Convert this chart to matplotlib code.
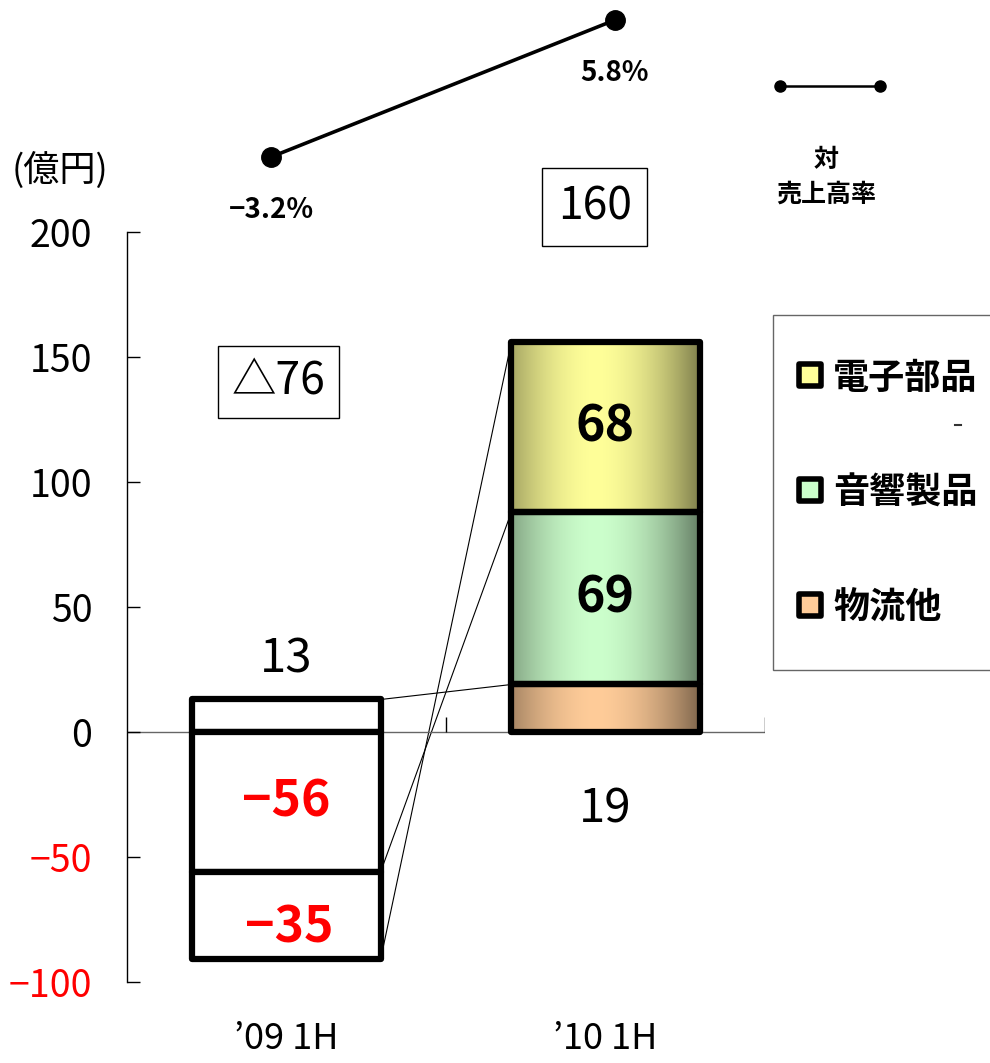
import numpy as np
import matplotlib
matplotlib.use("Agg")
import matplotlib.pyplot as plt
from matplotlib.patches import Rectangle
from matplotlib.lines import Line2D

# data
categories = ["’09 1H", "’10 1H"]
series_names = ["物流他", "音響製品", "電子部品"]
butsuryu = [13, 19]
onkyo = [-56, 69]
denshi = [-35, 68]
ratio = [-3.2, 5.8]
ratio_labels = ["−3.2%", "5.8%"]
total_labels = ["△76", "160"]
yticks = [-100, -50, 0, 50, 100, 150, 200]

light_colors = {"物流他": (1.0, 0.8, 0.6), "音響製品": (0.8, 1.0, 0.8), "電子部品": (1.0, 1.0, 0.6)}

FONT = ["Liberation Sans Narrow", "Noto Sans CJK JP", "DejaVu Sans"]
plt.rcParams["font.family"] = FONT

W, H = 990, 1063
fig = plt.figure(figsize=(W / 100, H / 100), dpi=100)


def px_axes(x0, y0, x1, y1):
    # pixel box (top-left origin) -> figure fraction
    return [x0 / W, 1 - y1 / H, (x1 - x0) / W, (y1 - y0) / H]


def fmt(v):
    return str(v).replace("-", "−")


ax = fig.add_axes(px_axes(127, 232, 765, 982))
bar_w = 0.59
ax.set_xlim(-0.5, 1.5)
ax.set_ylim(-100, 200)


def gradient(light, n=200):
    t = np.linspace(0, 1, n)
    w = 1 - np.clip(np.abs(t - 0.45) / 0.55, 0, 1) ** 1.8
    light = np.array(light)
    dark = light * 0.5
    row = dark[None, :] + (light - dark)[None, :] * w[:, None]
    return row[None, :, :]


series_vals = [butsuryu, onkyo, denshi]
ends = {}  # cumulative end of each segment, per bar
for i, cat in enumerate(categories):
    pos, neg = 0.0, 0.0
    x0 = i - bar_w / 2
    for name, vals in zip(series_names, series_vals):
        v = vals[i]
        if v >= 0:
            b, pos = pos, pos + v
            top = pos
        else:
            b, neg = neg, neg + v
            top = neg
        ends[(i, name)] = top
        y_lo, y_hi = min(b, top), max(b, top)
        if i == 1:
            ax.imshow(gradient(light_colors[name]), extent=[x0, x0 + bar_w, y_lo, y_hi],
                      aspect="auto", interpolation="bilinear", zorder=2)
            face = "none"
        else:
            face = "white"
        ax.add_patch(Rectangle((x0, y_lo), bar_w, y_hi - y_lo, facecolor=face,
                               edgecolor="black", linewidth=4.5, joinstyle="round", zorder=3))
        # value labels
        if name == "物流他":
            ly = top + 16 if i == 0 else -31
            ax.text(i, ly, fmt(v), ha="center", va="center", fontsize=34, color="black", zorder=5)
        else:
            col = "red" if v < 0 else "black"
            off = -5 if (name == "電子部品" and i == 0) else 0
            ax.text(i + (0.01 if off else 0), (b + top) / 2 + off, fmt(v), ha="center", va="center",
                    fontsize=36, fontweight="bold", color=col, zorder=5)

# series connection lines between bars
for name in series_names:
    ax.plot([bar_w / 2, 1 - bar_w / 2], [ends[(0, name)], ends[(1, name)]],
            color="black", lw=0.8, zorder=1)

ax.set_xlim(-0.5, 1.5)
ax.set_ylim(-100, 200)

# totals in boxes
ax.text(-0.025, 140, total_labels[0], ha="center", va="center", fontsize=32, zorder=5,
        bbox=dict(boxstyle="square,pad=0.3", facecolor="white", edgecolor="black", lw=1))
ax.text(0.966, 210, total_labels[1], ha="center", va="center", fontsize=32, zorder=5,
        clip_on=False,
        bbox=dict(boxstyle="square,pad=0.35", facecolor="white", edgecolor="black", lw=1))

# axes styling
for s in ["top", "right", "bottom"]:
    ax.spines[s].set_visible(False)
ax.spines["left"].set_linewidth(1)
ax.axhline(0, color="#666666", lw=1, zorder=1)
ax.vlines([0.5, 1.5], 0, 6, color="black", lw=1, zorder=1)
ax.set_yticks(yticks)
ax.set_yticklabels([fmt(t) for t in yticks])
for lab, t in zip(ax.get_yticklabels(), yticks):
    lab.set_color("red" if t < 0 else "black")
ax.tick_params(axis="y", direction="in", length=9, width=1, pad=25, labelsize=27)
ax.set_xticks([0, 1])
ax.set_xticklabels(categories)
ax.tick_params(axis="x", length=0, pad=28, labelsize=26)

# ratio line on top
lax = fig.add_axes(px_axes(271, 20, 615, 157))
lax.set_xlim(0, 1)
lax.set_ylim(min(ratio), max(ratio))
lax.axis("off")
lax.plot([0, 1], ratio, color="black", lw=2.6, marker="o", markersize=14, clip_on=False)
for xi, (r, lab) in enumerate(zip(ratio, ratio_labels)):
    lax.annotate(lab, (xi, r), xytext=(0, -38), textcoords="offset points", ha="center",
                 va="center", fontsize=20, fontweight="bold", annotation_clip=False)

# overlay for legends and unit label
ov = fig.add_axes([0, 0, 1, 1])
ov.set_xlim(0, W)
ov.set_ylim(H, 0)
ov.axis("off")
ov.patch.set_alpha(0)

ov.text(12, 170, "(億円)", ha="left", va="center", fontsize=26)

# line legend
ov.add_line(Line2D([780, 880], [86, 86], color="black", lw=1.8, marker="o", markersize=8))
ov.text(826, 160, "対", ha="center", va="center", fontsize=18, fontweight="bold")
ov.text(826, 195, "売上高率", ha="center", va="center", fontsize=18, fontweight="bold")

# bar legend
ov.add_patch(Rectangle((773, 315), 240, 355, facecolor="white", edgecolor="#666666", lw=1, zorder=1))
legend_rows = [("電子部品", 378), ("音響製品", 493), ("物流他", 608)]
for name, yc in legend_rows:
    ov.add_patch(Rectangle((799, yc - 14), 22, 22, facecolor=light_colors[name],
                           edgecolor="black", lw=4, joinstyle="round", zorder=2))
    ov.text(833, yc, name, ha="left", va="center", fontsize=26, fontweight="bold", zorder=3)
ov.add_line(Line2D([955, 961], [425, 425], color="#333333", lw=1.5))

fig.savefig("out.png", dpi=100)
